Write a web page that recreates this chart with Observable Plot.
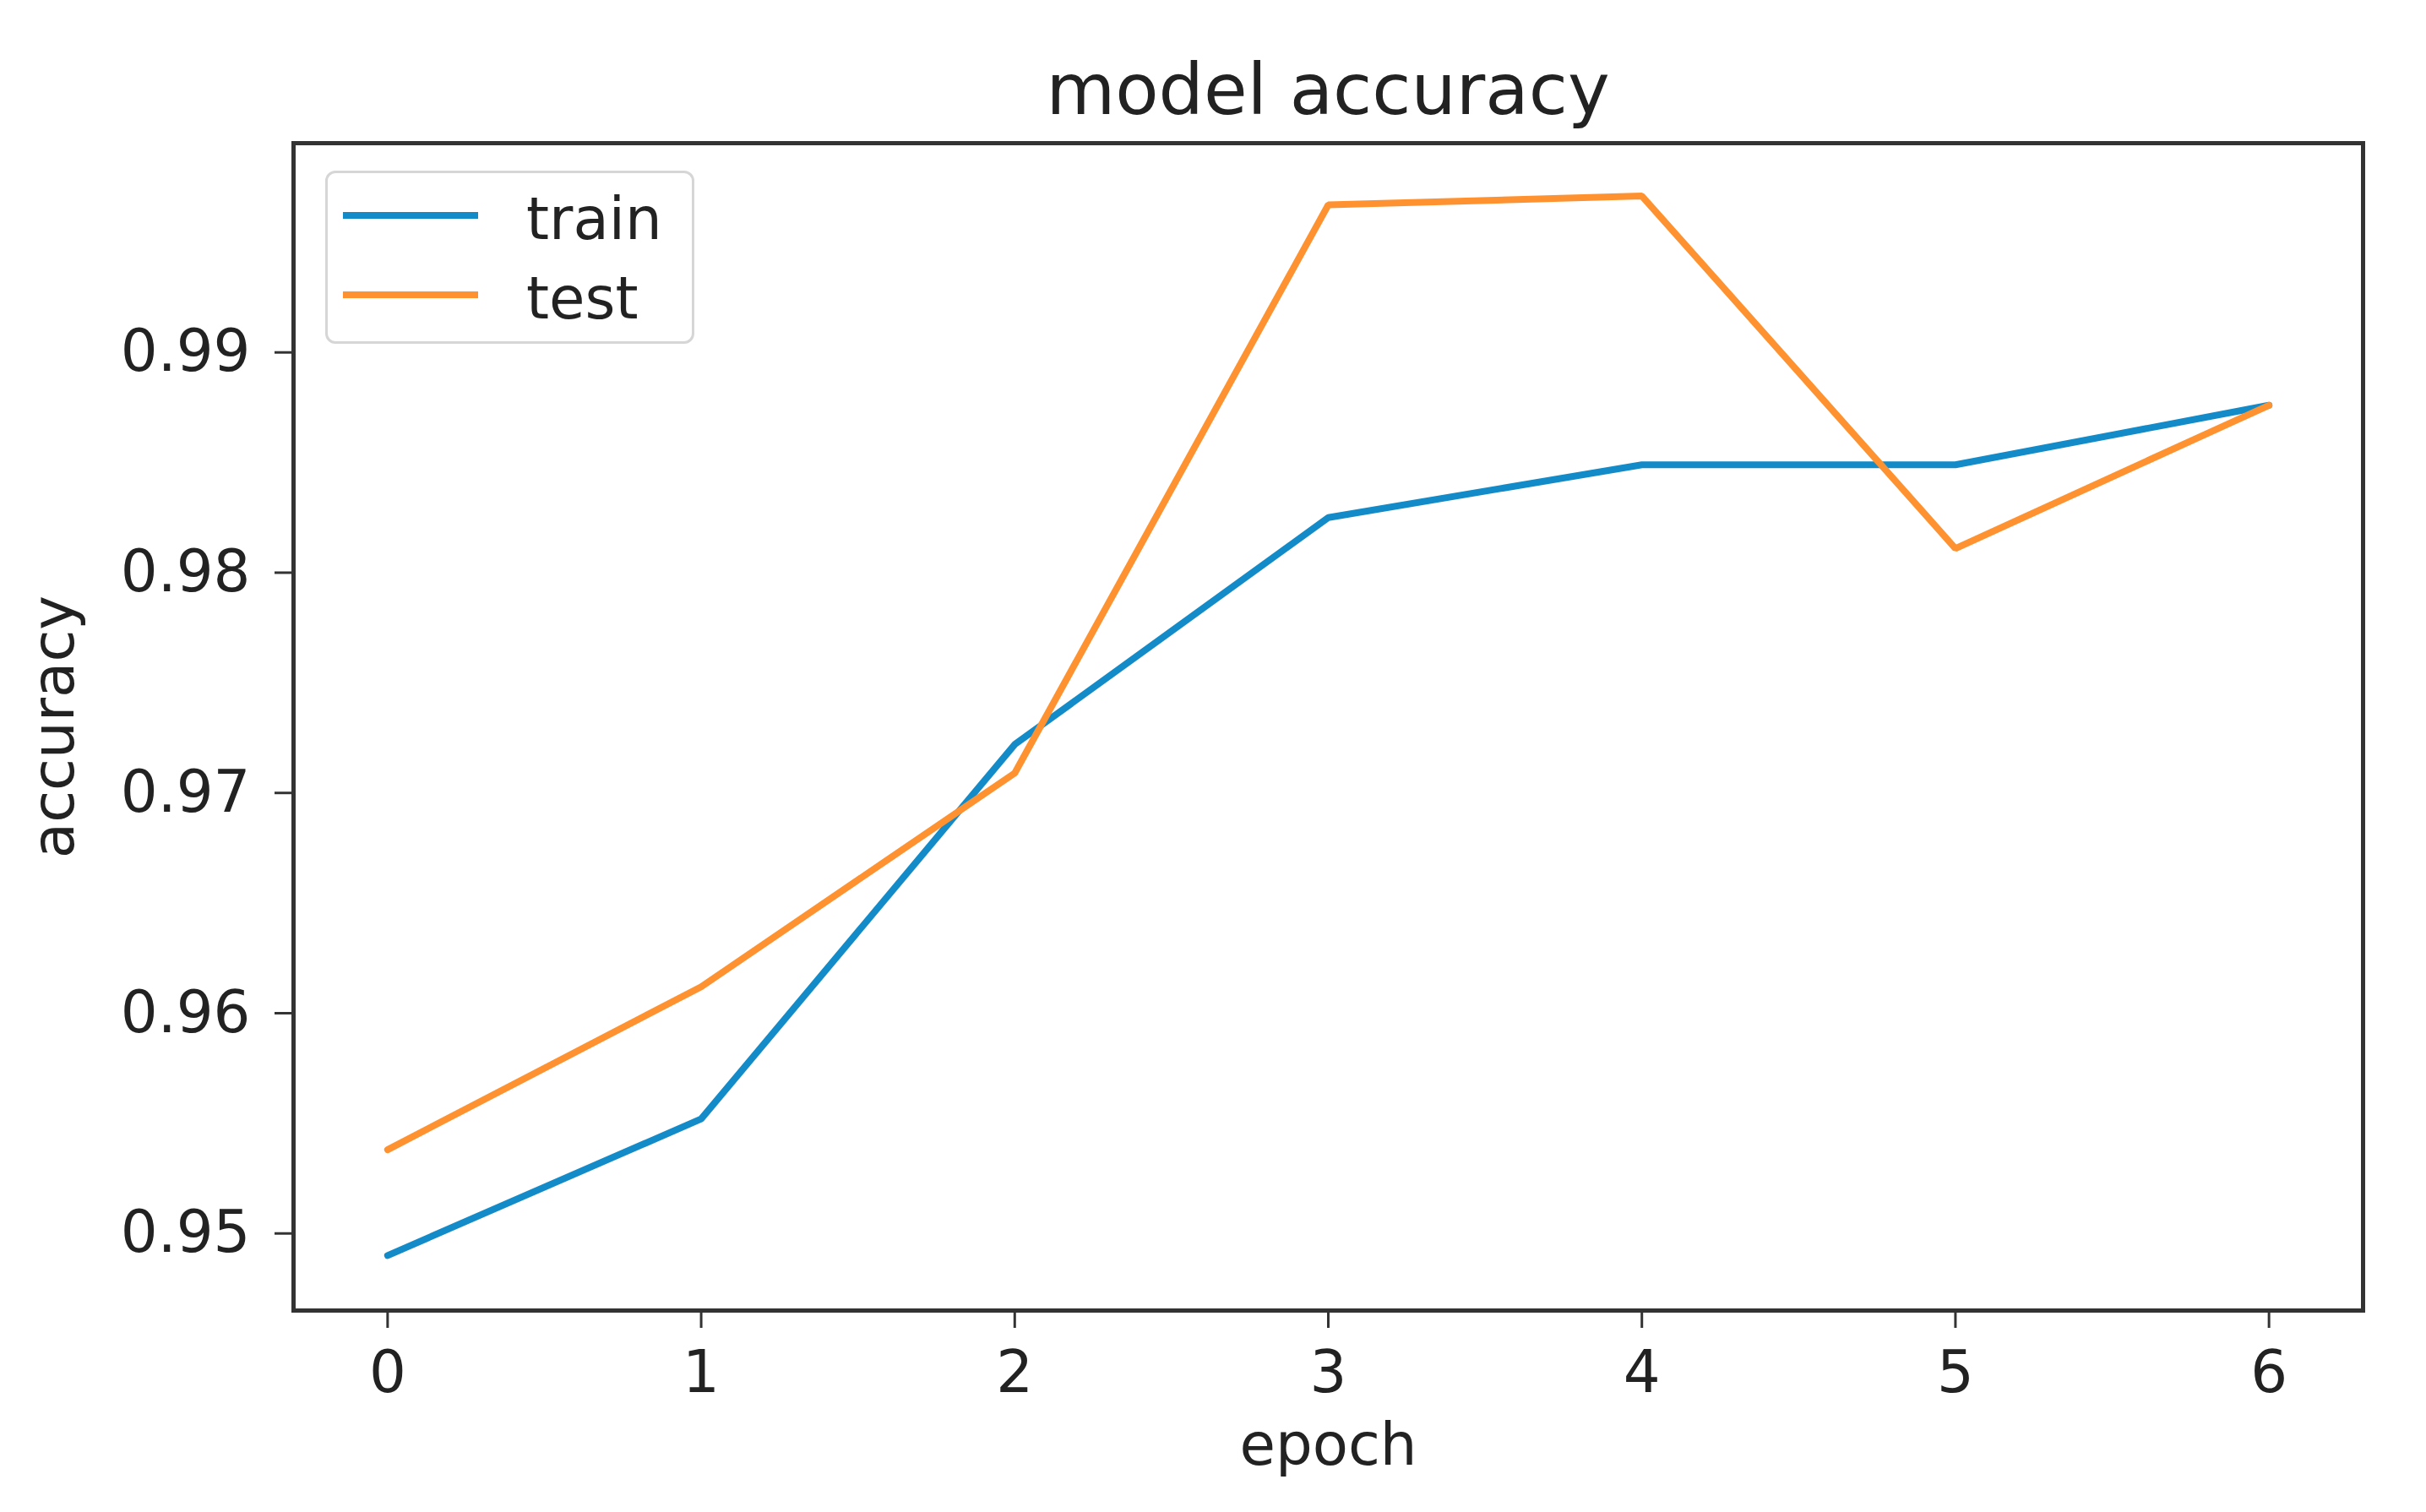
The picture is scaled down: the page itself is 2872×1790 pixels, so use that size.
<!DOCTYPE html>
<html>
<head>
<meta charset="utf-8">
<script src="https://cdn.jsdelivr.net/npm/d3@7"></script>
<script src="https://cdn.jsdelivr.net/npm/@observablehq/plot@0.6"></script>
<style>
  body { margin: 0; background: #fff; font-family: "DejaVu Sans", sans-serif; }
  #wrap { position: relative; width: 2872px; height: 1790px; background: #fff; }
  #title { box-sizing: border-box; height: 150px; padding-top: 64px; padding-left: 347px; padding-right: 75px;
           text-align: center; font-size: 84px; line-height: 84px; color: #222; white-space: nowrap; }
  #legend { position: absolute; left: 385px; top: 202px; width: 431px; height: 199px;
            border: 3px solid #d6d6d6; border-radius: 12px; background: #fff; }
  .item { position: absolute; left: 0; height: 80px; width: 100%; }
  .item svg { position: absolute; left: 15px; top: 0; }
  .item span { position: absolute; left: 235px; font-size: 69px; line-height: 80px; top: 0; color: #222; }
</style>
</head>
<body>
<div id="wrap">
  <div id="title"></div>
  <div id="chart"></div>
  <div id="legend"></div>
</div>
<script>
const titleText = "model accuracy";
const xLabel = "epoch";
const yLabel = "accuracy";
const epochs = [0, 1, 2, 3, 4, 5, 6];
const seriesNames = ["train", "test"];
const trainAcc = [0.9490, 0.9552, 0.9722, 0.9825, 0.9849, 0.9849, 0.9876];
const testAcc  = [0.9538, 0.9612, 0.9709, 0.9967, 0.9971, 0.9811, 0.9876];
const yTicks = [0.95, 0.96, 0.97, 0.98, 0.99];
const colors = ["#138bc9", "#ff9230"];

const rows = [];
epochs.forEach((e, i) => rows.push({epoch: e, acc: trainAcc[i], series: seriesNames[0]}));
epochs.forEach((e, i) => rows.push({epoch: e, acc: testAcc[i], series: seriesNames[1]}));

document.getElementById("title").textContent = titleText;

const chart = Plot.plot({
  width: 2872,
  height: 1640,
  marginTop: 19,
  marginBottom: 239,
  marginLeft: 347,
  marginRight: 75,
  style: {fontFamily: "DejaVu Sans, sans-serif", fontSize: "69px", color: "#222", background: "#fff", overflow: "visible"},
  x: {domain: [-0.3, 6.3]},
  y: {domain: [0.9465, 0.9995]},
  color: {domain: seriesNames, range: colors},
  marks: [
    Plot.line(rows, {x: "epoch", y: "acc", stroke: "series", z: "series", strokeWidth: 8, strokeLinejoin: "miter"}),
    Plot.frame({stroke: "#333", strokeWidth: 5}),
    Plot.axisX({ticks: epochs, tickFormat: "d", tickSize: 21, tickPadding: 26, strokeWidth: 3, stroke: "#333",
                label: xLabel, labelAnchor: "center", labelArrow: "none", labelOffset: 182}),
    Plot.axisY({ticks: yTicks, tickFormat: ".2f", tickSize: 22, tickPadding: 29, strokeWidth: 3, stroke: "#333",
                label: yLabel, labelAnchor: "center", labelArrow: "none", labelOffset: 310})
  ]
});
document.getElementById("chart").appendChild(chart);

// Legend
const legend = document.getElementById("legend");
const lineTops = [14, 108];
seriesNames.forEach((name, i) => {
  const item = document.createElement("div");
  item.className = "item";
  item.style.top = lineTops[i] + "px";
  item.innerHTML = `<svg width="170" height="80"><line x1="3" x2="163" y1="36" y2="36" stroke="${colors[i]}" stroke-width="8"/></svg><span>${name}</span>`;
  legend.appendChild(item);
});
</script>
</body>
</html>
